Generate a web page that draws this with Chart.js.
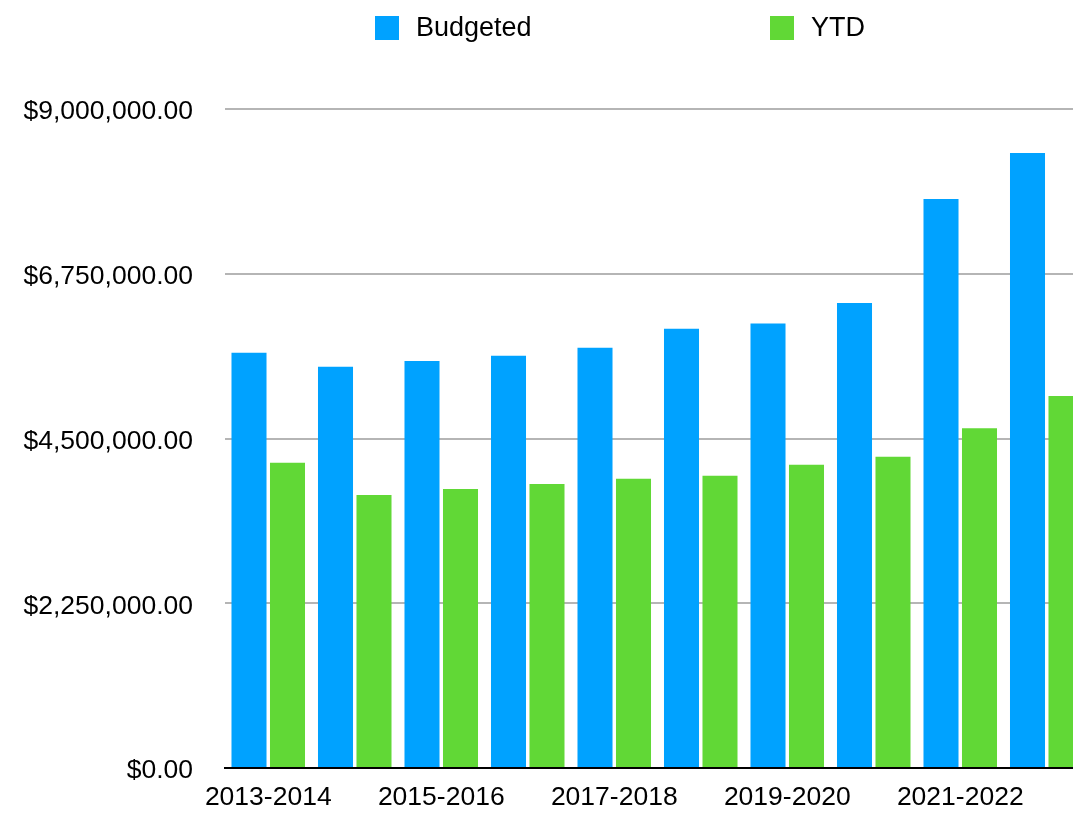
<!DOCTYPE html>
<html>
<head>
<meta charset="utf-8">
<script src="https://cdn.jsdelivr.net/npm/chart.js@4.4.1/dist/chart.umd.min.js"></script>
<style>
  body { margin: 0; overflow: hidden; background: #fff; font-family: "Liberation Sans", Arial, sans-serif; }
  #contenedor { position: relative; width: 1092px; height: 823px; }
  #leyenda { position: absolute; top: 12px; left: 375px; display: flex; }
  #leyenda .item { display: flex; align-items: center; width: 395px; font-size: 27px; color: #000; }
  #leyenda .caja { width: 24px; height: 24px; margin-right: 17px; }
</style>
</head>
<body>
<div id="contenedor">
  <div id="leyenda"></div>
  <canvas id="grafico"></canvas>
</div>
<script>
const categorias = ['2013-2014', '2014-2015', '2015-2016', '2016-2017', '2017-2018',
                    '2018-2019', '2019-2020', '2020-2021', '2021-2022', '2022-2023'];
const presupuesto = [5670000, 5480000, 5560000, 5630000, 5740000,
                     6000000, 6070000, 6350000, 7770000, 8400000];
const ytd = [4170000, 3730000, 3810000, 3880000, 3950000,
             3990000, 4140000, 4250000, 4640000, 5080000];
const ticksY = [0, 2250000, 4500000, 6750000, 9000000];

const fuente = 'Liberation Sans';

const formatoDinero = (v) =>
  '$' + Number(v).toLocaleString('en-US', {minimumFractionDigits: 2, maximumFractionDigits: 2});

const data = {
  labels: categorias,
  datasets: [
    {
      label: 'Budgeted',
      backgroundColor: '#00a2ff',
      data: presupuesto,
    },
    {
      label: 'YTD',
      backgroundColor: '#61d836',
      data: ytd,
    },
  ],
};

const config = {
  type: 'bar',
  data: data,
  options: {
    responsive: true,
    maintainAspectRatio: false,
    animation: false,
    categoryPercentage: 0.89,
    barPercentage: 0.91,
    layout: {
      padding: {top: 109, right: 2, left: 0, bottom: 0}
    },
    plugins: {
      legend: {display: false},
      tooltip: {enabled: false},
    },
    scales: {
      x: {
        grid: {display: false},
        border: {display: true, color: '#000', width: 2},
        ticks: {
          autoSkip: false,
          maxRotation: 0,
          color: '#000',
          padding: 6,
          font: {family: fuente, size: 26.5},
          callback: function (val, i) {
            return i % 2 === 0 ? this.getLabelForValue(val) : '';
          },
        },
        afterFit: (scale) => { scale.height = 55; },
      },
      y: {
        min: 0,
        max: 9000000,
        border: {display: false},
        grid: {
          color: (ctx) => (ctx.tick && ctx.tick.value === 0 ? '#000' : '#b5b5b5'),
          lineWidth: 2,
          drawTicks: false,
        },
        ticks: {
          color: '#000',
          padding: 32,
          labelOffset: 3,
          font: {family: fuente, size: 26.5},
          callback: (v) => formatoDinero(v),
        },
        afterBuildTicks: (scale) => {
          scale.ticks = ticksY.map((v) => ({value: v}));
        },
        afterFit: (scale) => { scale.width = 225; },
      },
    },
  },
};

const myChart = new Chart(document.getElementById('grafico'), config);

// leyenda en html, con los colores de cada serie
const leyenda = document.getElementById('leyenda');
myChart.data.datasets.forEach((ds) => {
  const item = document.createElement('div');
  item.className = 'item';
  const caja = document.createElement('span');
  caja.className = 'caja';
  caja.style.background = ds.backgroundColor;
  const texto = document.createElement('span');
  texto.textContent = ds.label;
  item.appendChild(caja);
  item.appendChild(texto);
  leyenda.appendChild(item);
});
</script>
</body>
</html>
